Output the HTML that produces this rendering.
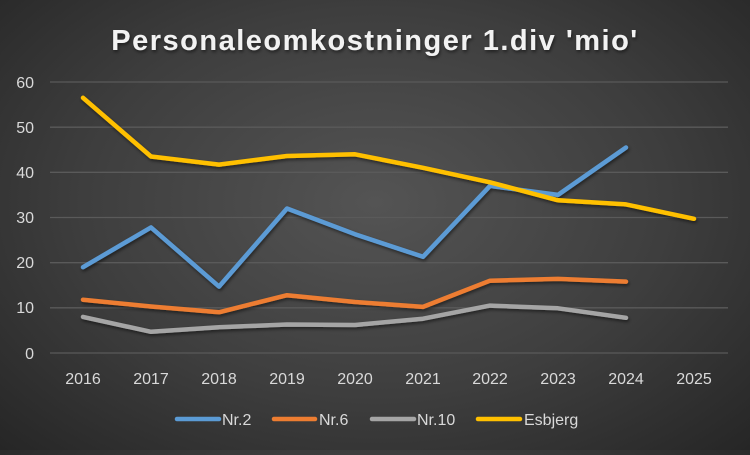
<!DOCTYPE html>
<html><head><style>
html,body{margin:0;padding:0;}
body{width:750px;height:450px;overflow:hidden;background:radial-gradient(ellipse at 50% 45%,#545454 0%,#3e3e3e 55%,#262626 100%);font-family:"Liberation Sans",sans-serif;}
</style></head><body>
<svg width="750" height="450" xmlns="http://www.w3.org/2000/svg">
<defs><filter id="s" x="-5%" y="-5%" width="110%" height="120%"><feDropShadow dx="1" dy="2" stdDeviation="1.5" flood-color="#000" flood-opacity="0.5"/></filter></defs>
<text x="375" y="50" text-anchor="middle" font-size="29" font-weight="bold" fill="#f2f2f2" letter-spacing="1.5" filter="url(#s)">Personaleomkostninger 1.div 'mio'</text>
<g stroke="#5a5a5a" stroke-width="1.3">
<line x1="50" x2="728" y1="82" y2="82"/><line x1="50" x2="728" y1="127.2" y2="127.2"/><line x1="50" x2="728" y1="172.3" y2="172.3"/><line x1="50" x2="728" y1="217.5" y2="217.5"/><line x1="50" x2="728" y1="262.7" y2="262.7"/><line x1="50" x2="728" y1="307.8" y2="307.8"/><line x1="50" x2="728" y1="353" y2="353"/>
</g>
<g font-size="16" fill="#d9d9d9" text-anchor="end">
<text x="34" y="88">60</text><text x="34" y="133">50</text><text x="34" y="178">40</text><text x="34" y="223">30</text><text x="34" y="268">20</text><text x="34" y="313">10</text><text x="34" y="359">0</text>
</g>
<g font-size="16" fill="#d9d9d9" text-anchor="middle">
<text x="83" y="384">2016</text><text x="151" y="384">2017</text><text x="219" y="384">2018</text><text x="287" y="384">2019</text><text x="355" y="384">2020</text><text x="423" y="384">2021</text><text x="490" y="384">2022</text><text x="558" y="384">2023</text><text x="626" y="384">2024</text><text x="694" y="384">2025</text>
</g>
<g fill="none" stroke-width="4.5" stroke-linejoin="round" stroke-linecap="round" filter="url(#s)">
<polyline stroke="#a5a5a5" points="83,316.9 151,331.8 219,327.3 287,324.5 355,325 423,318.7 490,305.6 558,308.3 626,317.8"/>
<polyline stroke="#ed7d31" points="83,299.7 151,306.5 219,312.3 287,295.2 355,302 423,306.9 490,280.7 558,278.9 626,281.6"/>
<polyline stroke="#5b9bd5" points="83,267.2 151,227.4 219,286.6 287,208.5 355,234.2 423,256.8 490,185.9 558,194.9 626,147.5"/>
<polyline stroke="#ffc000" points="83,97.8 151,156.5 219,164.6 287,156 355,154.3 423,167.8 490,182.3 558,200.3 626,204.4 694,218.8"/>
</g>
<g stroke-width="4.5" stroke-linecap="round">
<line x1="177" x2="219" y1="419" y2="419" stroke="#5b9bd5"/>
<line x1="274" x2="315" y1="419" y2="419" stroke="#ed7d31"/>
<line x1="372" x2="414" y1="419" y2="419" stroke="#a5a5a5"/>
<line x1="478" x2="520" y1="419" y2="419" stroke="#ffc000"/>
</g>
<g font-size="16" fill="#d9d9d9">
<text x="222" y="425">Nr.2</text><text x="319" y="425">Nr.6</text><text x="417" y="425">Nr.10</text><text x="524" y="425">Esbjerg</text>
</g>
</svg>
</body></html>
